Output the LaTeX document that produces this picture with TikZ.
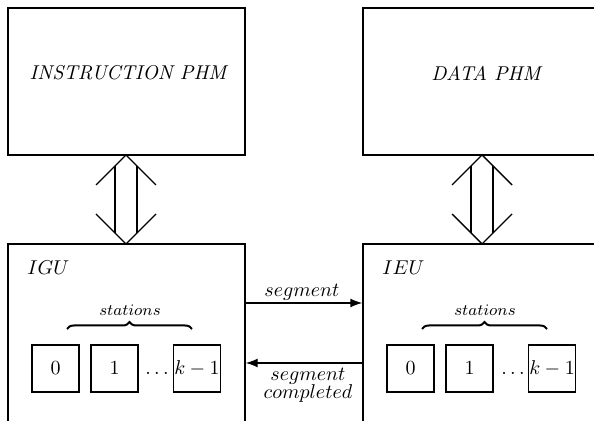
\documentclass[tikz,border=0pt]{standalone}
\usetikzlibrary{arrows.meta,decorations.pathreplacing}
\begin{document}
\begin{tikzpicture}[x=0.5pt,y=-0.5pt,
  box/.style={draw,line width=0.7pt,rectangle,inner sep=0pt},
  stbox/.style={draw,line width=0.7pt,rectangle,inner sep=0pt,minimum width=23.5pt,minimum height=23.5pt},
  hollow/.style={line width=0.7pt},
  arr/.style={line width=0.7pt,-{Latex[length=6pt,width=4.5pt]}},
  brc/.style={decorate,decoration={brace,amplitude=3.5pt},line width=1pt},
  lbl/.style={inner sep=0pt}]
\useasboundingbox (0,0) rectangle (594,421);
\clip (0,0) rectangle (594,421);
% top boxes
\node[box,minimum width=118.5pt,minimum height=73.5pt] (iphm) at (126.5,81.5) {};
\node[box,minimum width=118.5pt,minimum height=73.5pt] (dphm) at (481.5,81.5) {};
\node[lbl,font=\itshape] (iphmt) at (128,73) {INSTRUCTION PHM};
\node[lbl,font=\itshape] (dphmt) at (486,73) {DATA PHM};
% bottom boxes
\node[box,minimum width=118.5pt,minimum height=108pt] (igu) at (126.5,352) {};
\node[box,minimum width=118.5pt,minimum height=108pt] (ieu) at (481.5,352) {};
\node[lbl,anchor=west] (igut) at (27,268) {$IGU$};
\node[lbl,anchor=west] (ieut) at (382,268) {$IEU$};
% hollow double arrows
\foreach \c/\n in {126/l,482/r}{
  \coordinate (t\n) at (\c,155);
  \coordinate (b\n) at (\c,244);
  \draw[hollow] ([xshift=-15pt,yshift=-15pt]t\n) -- (t\n) -- ([xshift=15pt,yshift=-15pt]t\n);
  \draw[hollow] ([xshift=-15pt,yshift=15pt]b\n) -- (b\n) -- ([xshift=15pt,yshift=15pt]b\n);
  \draw[hollow] ([xshift=-5.5pt,yshift=-5.5pt]t\n) -- ([xshift=-5.5pt,yshift=5.5pt]b\n);
  \draw[hollow] ([xshift=5.5pt,yshift=-5.5pt]t\n) -- ([xshift=5.5pt,yshift=5.5pt]b\n);
}
% stations
\foreach \p/\ox/\dx in {g/0/157,e/355/513}{
  \node[stbox] (\p0) at (55.5+\ox,368.5) {$0$};
  \node[stbox] (\p1) at (114.5+\ox,368.5) {$1$};
  \node[stbox] (\p2) at (197+\ox,368.5) {};
  \node[lbl] (\p k) at (197+\ox,368.5) {$k-1$};
  \node[lbl,anchor=base] (\p d) at (\dx,375) {$\ldots$};
  \coordinate (\p bl) at (67+\ox,329);
  \coordinate (\p br) at (192+\ox,329);
  \draw[brc] (\p bl) -- (\p br);
  \node[lbl,font=\footnotesize] (\p s) at (130+\ox,310) {$stations$};
}
% segment arrows
\draw[arr] (igu.east |- 0,303) -- (ieu.west |- 0,303);
\draw[arr] (ieu.west |- 0,363) -- (igu.east |- 0,363);
\node[lbl] (seg) at (302,292) {$segment$};
\node[lbl,align=center] (segc) at (308,385) {$segment$\\[-3pt]$completed$};
\end{tikzpicture}
\end{document}
